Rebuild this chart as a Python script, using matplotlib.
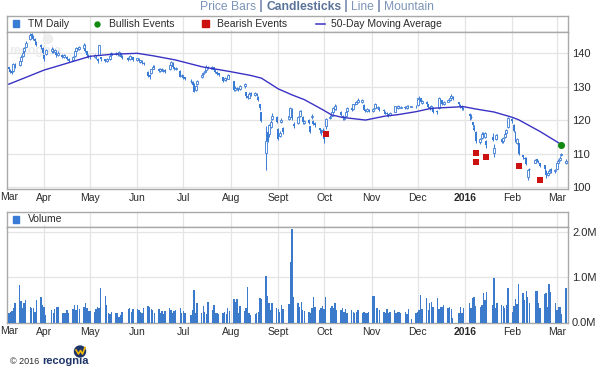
import matplotlib
matplotlib.use("Agg")
import matplotlib.pyplot as plt
import matplotlib.dates as mdates
from matplotlib.patches import Rectangle, Circle
import numpy as np
import pandas as pd

plt.rcParams["font.family"] = ["Liberation Sans", "DejaVu Sans"]

# exchange holidays inside the window (no candle on these days)
holidays = ["2015-04-03", "2015-05-25", "2015-07-03", "2015-09-07", "2015-11-26",
            "2015-12-25", "2016-01-01", "2016-01-18", "2016-02-15"]

# daily OHLC, one line per week (Mar 9 2015 .. Mar 7 2016)
opens = [
    135.8, 135.0, 134.8, 134.6, 136.6,
    136.4, 137.8, 139.2, 140.6, 142.0,
    144.2, 145.8, 145.0, 144.2, 143.4,
    142.4, 141.6, 139.4, 139.8,
    140.6, 141.2, 140.4, 140.6, 139.6,
    139.6, 138.8, 139.4, 139.0, 138.4,
    138.0, 139.2, 140.8, 141.6, 141.2,
    141.6, 142.6, 140.6, 139.6, 139.2,
    139.0, 139.2, 138.4, 139.6, 138.8,
    138.2, 137.6, 138.2, 138.2, 139.4,
    139.8, 140.2, 139.5, 140.0, 139.2,
    138.6, 138.2, 139.0, 138.8,
    138.0, 138.4, 137.4, 137.8, 137.2,
    134.4, 133.4, 134.0, 135.4, 136.2,
    135.4, 134.6, 135.3, 134.6, 135.0,
    135.2, 136.6, 137.2, 135.8, 135.2,
    134.8, 133.2, 133.2, 132.8,
    131.6, 131.4, 130.8, 129.2, 130.8,
    132.8, 133.8, 134.4, 135.0, 135.8,
    135.4, 135.8, 135.0, 134.4, 134.0,
    132.8, 132.0, 132.4, 132.4, 133.4,
    131.6, 129.2, 129.8, 129.4, 129.4,
    130.4, 128.4, 127.2, 126.8, 128.2,
    127.6, 128.0, 127.0, 124.8, 122.4,
    110.2, 116.6, 116.0, 118.0, 120.4,
    121.0, 117.4, 115.4, 119.6, 117.6,
    120.4, 121.0, 123.2, 119.0,
    119.2, 121.4, 122.8, 121.0, 119.2,
    120.0, 118.2, 121.0, 119.8, 119.2,
    117.6, 116.8, 116.6, 116.6, 118.4,
    120.8, 121.4, 122.6, 123.4, 124.2,
    122.6, 121.4, 120.4, 121.2, 122.8,
    123.8, 123.4, 124.8, 125.0, 125.4,
    125.4, 124.6, 123.2, 122.8, 123.2,
    122.8, 123.6, 124.6, 123.6, 123.8,
    123.2, 122.6, 122.2, 121.8, 121.6,
    122.6, 124.0, 123.6, 124.2, 123.8,
    124.0, 123.6, 124.4, 124.0,
    124.4, 124.6, 126.4, 126.6, 125.2,
    125.6, 124.8, 124.0, 123.6, 123.8,
    122.8, 123.6, 126.4, 126.0, 124.8,
    125.6, 126.2, 126.8, 127.0,
    125.4, 124.6, 124.4, 123.8,
    122.0, 121.0, 119.4, 117.8, 116.6,
    113.6, 114.8, 116.0, 115.2, 114.0,
    115.0, 110.2, 114.4, 115.4,
    114.4, 113.8, 115.0, 116.2, 118.0,
    120.4, 118.6, 116.6, 113.4, 113.2,
    109.6, 108.8, 108.8, 103.2, 105.4,
    107.4, 108.4, 108.0, 107.2,
    106.6, 105.0, 103.8, 104.4, 105.4,
    104.8, 105.6, 107.4, 108.2, 109.6,
    107.3,
]
highs = [
    136.0, 135.3, 135.0, 137.2, 137.0,
    138.0, 139.4, 140.6, 142.0, 143.6,
    146.2, 146.0, 145.4, 144.6, 143.8,
    142.8, 141.8, 139.6, 141.4,
    141.8, 141.6, 141.2, 140.8, 140.6,
    139.8, 139.8, 139.6, 139.2, 138.6,
    139.2, 141.0, 141.9, 141.8, 142.2,
    143.2, 142.8, 140.8, 139.8, 139.4,
    139.8, 139.4, 138.6, 142.6, 139.0,
    138.4, 138.5, 138.4, 139.5, 140.3,
    140.5, 140.4, 140.6, 140.2, 139.4,
    138.8, 139.4, 139.2, 139.0,
    138.7, 138.6, 138.1, 138.0, 137.4,
    134.6, 133.8, 135.4, 136.4, 136.4,
    135.6, 135.6, 135.5, 135.4, 135.2,
    136.6, 137.8, 137.4, 136.0, 135.9,
    135.0, 133.8, 133.4, 133.0,
    132.2, 131.6, 131.0, 130.6, 132.0,
    133.8, 134.5, 135.0, 136.4, 136.1,
    136.2, 136.0, 135.2, 134.6, 134.2,
    133.0, 132.8, 132.6, 133.8, 133.6,
    131.8, 130.2, 130.0, 129.8, 130.6,
    131.2, 128.6, 127.6, 128.4, 128.4,
    128.5, 128.3, 127.2, 125.0, 122.6,
    118.2, 117.0, 119.0, 120.0, 122.2,
    121.4, 117.8, 116.8, 120.6, 118.0,
    121.6, 123.9, 123.6, 119.4,
    121.4, 123.2, 123.0, 121.2, 120.2,
    120.4, 118.4, 121.8, 120.0, 119.6,
    117.8, 117.4, 117.8, 116.8, 120.8,
    121.6, 122.8, 123.9, 124.8, 124.5,
    122.8, 121.6, 121.2, 122.9, 124.0,
    124.0, 125.0, 125.4, 125.8, 126.6,
    126.4, 124.8, 123.5, 123.8, 123.5,
    123.6, 125.2, 124.8, 124.4, 124.0,
    123.4, 122.8, 122.4, 122.0, 122.6,
    124.4, 124.2, 124.6, 124.4, 124.3,
    124.2, 124.6, 124.6, 124.4,
    124.6, 126.8, 127.2, 126.8, 126.0,
    125.8, 125.0, 124.2, 124.5, 124.0,
    123.0, 126.9, 126.8, 126.2, 125.8,
    126.3, 127.2, 127.8, 127.2,
    125.6, 125.0, 124.6, 124.0,
    122.2, 121.8, 119.6, 118.6, 116.8,
    114.8, 116.6, 116.4, 116.6, 114.2,
    116.2, 113.0, 116.0, 115.8,
    114.6, 115.2, 116.4, 117.4, 121.0,
    120.8, 118.8, 116.8, 114.8, 113.4,
    109.8, 109.2, 109.0, 105.6, 105.8,
    108.6, 108.6, 108.2, 107.4,
    106.8, 105.2, 104.8, 105.6, 105.8,
    105.6, 107.6, 108.4, 109.4, 110.4,
    108.6,
]
lows = [
    134.6, 134.0, 133.8, 134.4, 135.6,
    136.2, 137.4, 138.8, 140.2, 141.8,
    144.0, 144.6, 144.0, 143.4, 142.2,
    141.4, 139.8, 137.6, 139.4,
    140.2, 140.2, 140.0, 139.0, 139.2,
    138.6, 138.6, 138.8, 137.9, 137.4,
    137.8, 139.0, 140.6, 140.9, 141.0,
    141.4, 140.5, 139.0, 138.6, 138.4,
    138.6, 138.2, 137.2, 139.4, 137.6,
    137.4, 137.3, 137.6, 138.0, 139.2,
    139.6, 139.3, 139.3, 138.8, 138.4,
    137.6, 138.0, 138.3, 137.6,
    137.8, 137.4, 137.2, 136.8, 136.4,
    132.8, 132.2, 133.8, 135.2, 135.4,
    134.3, 134.4, 134.6, 134.4, 134.0,
    135.0, 136.4, 135.6, 135.1, 135.0,
    132.8, 132.8, 132.3, 132.1,
    131.2, 130.2, 128.4, 128.8, 130.6,
    132.6, 133.6, 134.2, 134.8, 135.2,
    135.2, 134.8, 134.2, 133.4, 133.1,
    131.4, 131.8, 131.6, 132.2, 132.8,
    128.8, 128.9, 129.1, 128.8, 129.0,
    129.6, 126.8, 126.4, 126.6, 127.4,
    127.4, 127.2, 125.8, 123.2, 119.4,
    105.2, 113.6, 115.0, 117.6, 120.2,
    119.2, 114.2, 115.0, 119.2, 116.0,
    120.0, 120.6, 120.2, 117.8,
    118.8, 121.0, 121.8, 119.0, 118.9,
    118.8, 116.2, 120.4, 118.6, 118.0,
    116.2, 115.6, 116.2, 113.2, 117.4,
    120.4, 121.2, 122.4, 123.2, 123.0,
    121.4, 120.2, 120.0, 121.0, 122.6,
    122.8, 123.2, 124.5, 124.8, 125.2,
    125.2, 123.0, 122.4, 122.6, 122.5,
    122.6, 123.4, 123.6, 123.4, 122.8,
    122.4, 121.8, 121.4, 121.0, 121.2,
    122.4, 123.3, 123.4, 123.6, 123.6,
    123.4, 123.4, 123.8, 123.9,
    123.8, 124.4, 126.0, 125.4, 125.0,
    124.6, 123.8, 123.2, 123.4, 122.2,
    121.8, 123.4, 125.8, 124.6, 124.6,
    125.4, 125.9, 126.6, 126.2,
    124.4, 123.8, 123.2, 123.0,
    120.2, 120.4, 118.0, 116.8, 113.4,
    113.0, 114.4, 115.0, 114.8, 111.8,
    113.8, 109.2, 114.2, 114.4,
    113.2, 113.4, 114.8, 115.8, 117.8,
    119.2, 116.4, 113.6, 113.0, 109.6,
    108.4, 108.2, 106.6, 102.3, 105.0,
    107.2, 107.6, 107.2, 106.0,
    105.0, 102.8, 103.4, 104.2, 104.4,
    104.4, 105.4, 107.2, 107.8, 109.4,
    107.0,
]
closes = [
    135.2, 134.4, 134.2, 136.8, 136.0,
    137.6, 139.0, 140.2, 141.5, 143.2,
    145.6, 145.0, 144.3, 143.8, 142.6,
    141.8, 140.2, 138.4, 141.0,
    141.3, 140.6, 140.9, 139.4, 140.2,
    138.9, 139.5, 139.0, 138.2, 137.8,
    139.0, 140.8, 141.6, 141.2, 141.8,
    142.4, 140.8, 139.4, 139.0, 138.8,
    139.4, 138.6, 137.6, 142.4, 138.2,
    137.8, 138.2, 137.9, 139.3, 140.0,
    140.2, 139.6, 140.3, 139.0, 138.7,
    138.0, 139.2, 138.6, 138.0,
    138.5, 137.6, 137.9, 137.0, 136.8,
    133.2, 132.8, 135.2, 136.0, 135.8,
    134.6, 135.4, 134.8, 135.1, 134.3,
    136.4, 137.4, 135.8, 135.4, 135.6,
    133.0, 133.6, 132.6, 132.4,
    131.8, 130.6, 128.6, 130.4, 131.6,
    133.6, 134.2, 134.8, 136.0, 135.5,
    135.8, 135.0, 134.4, 133.8, 133.4,
    131.8, 132.6, 132.2, 133.6, 133.2,
    129.0, 129.8, 129.4, 129.6, 130.2,
    130.8, 127.4, 126.8, 128.0, 127.8,
    128.2, 127.6, 126.2, 123.6, 119.8,
    113.8, 114.0, 118.6, 119.4, 121.2,
    119.6, 114.6, 116.2, 120.0, 116.6,
    121.2, 123.6, 120.6, 118.2,
    121.0, 122.8, 122.2, 119.4, 119.8,
    119.2, 116.6, 121.2, 119.0, 118.6,
    117.0, 116.4, 117.2, 114.4, 120.4,
    121.0, 122.4, 123.6, 124.4, 123.2,
    121.6, 120.6, 120.8, 122.6, 123.6,
    123.2, 124.8, 125.0, 125.6, 126.2,
    126.0, 123.2, 122.8, 123.4, 122.8,
    123.4, 124.8, 123.8, 124.0, 123.0,
    122.8, 122.0, 121.8, 121.4, 122.2,
    124.2, 123.6, 124.4, 123.8, 124.0,
    123.6, 124.4, 124.0, 124.2,
    124.2, 126.6, 126.8, 125.6, 125.8,
    125.0, 124.0, 123.6, 124.2, 122.6,
    122.4, 126.6, 126.2, 125.0, 125.4,
    126.0, 126.8, 127.2, 126.4,
    124.8, 124.2, 123.6, 123.4,
    121.2, 121.0, 118.6, 117.2, 113.8,
    114.4, 116.0, 115.4, 116.2, 112.8,
    114.2, 111.8, 115.6, 114.8,
    113.6, 114.8, 116.0, 117.0, 120.6,
    119.8, 116.8, 114.0, 114.6, 110.0,
    109.0, 108.6, 107.0, 105.2, 105.6,
    108.2, 108.0, 107.6, 106.4,
    105.4, 103.6, 104.4, 105.0, 104.8,
    105.2, 107.2, 108.0, 108.8, 110.0,
    108.0,
]
# daily volume, millions of shares
volume_m = [
    0.20, 0.24, 0.25, 0.33, 0.42,
    0.83, 0.48, 0.33, 0.42, 0.50,
    0.35, 0.33, 0.33, 0.24, 0.50,
    0.57, 0.39, 0.35, 0.16,
    0.27, 0.21, 0.29, 0.35, 0.35,
    0.20, 0.20, 0.20, 0.27, 0.20,
    0.29, 0.39, 0.27, 0.39, 0.29,
    0.35, 0.42, 0.31, 0.25, 0.25,
    0.23, 0.29, 0.35, 0.33, 0.76,
    0.58, 0.39, 0.20, 0.18, 0.24,
    0.20, 0.21, 0.13, 0.16, 0.24,
    0.29, 0.31, 0.24, 0.29,
    0.30, 0.27, 0.24, 0.21, 0.31,
    0.36, 0.34, 0.30, 0.27, 0.22,
    0.30, 0.20, 0.25, 0.19, 0.26,
    0.33, 0.27, 0.21, 0.26, 0.28,
    0.33, 0.20, 0.25, 0.22,
    0.17, 0.27, 0.72, 0.21, 0.42,
    0.22, 0.36, 0.24, 0.18, 0.46,
    0.27, 0.38, 0.20, 0.21, 0.19,
    0.20, 0.24, 0.19, 0.33, 0.25,
    0.51, 0.46, 0.51, 0.21, 0.36,
    0.26, 0.31, 0.79, 0.22, 0.16,
    0.18, 0.20, 0.24, 0.53, 0.51,
    1.03, 0.58, 0.42, 0.28, 0.42,
    0.31, 0.29, 0.24, 0.38, 0.29,
    0.40, 1.34, 2.06, 0.56,
    0.44, 0.35, 0.46, 0.27, 0.25,
    0.24, 0.20, 0.31, 0.56, 0.35,
    0.27, 0.31, 0.36, 0.29, 0.57,
    0.31, 0.36, 0.31, 0.42, 0.27,
    0.27, 0.31, 0.24, 0.29, 0.22,
    0.27, 0.24, 0.20, 0.24, 0.27,
    0.22, 0.24, 0.20, 0.21, 0.24,
    0.58, 0.58, 0.31, 0.31, 0.27,
    0.24, 0.20, 0.29, 0.20, 0.24,
    0.27, 0.20, 0.24, 0.24, 0.20,
    0.24, 0.18, 0.29, 0.07,
    0.22, 0.24, 0.27, 0.61, 0.29,
    0.53, 0.27, 0.42, 0.46, 0.35,
    0.53, 0.29, 0.35, 0.35, 0.39,
    0.31, 0.35, 0.29, 0.10,
    0.20, 0.35, 0.21, 0.31,
    0.42, 0.33, 0.53, 0.56, 0.36,
    0.35, 0.38, 0.64, 0.50, 0.67,
    0.38, 0.99, 0.32, 0.42,
    0.38, 0.36, 0.33, 0.39, 0.76,
    0.24, 0.36, 0.52, 0.40, 0.84,
    0.64, 0.50, 0.70, 0.57, 0.43,
    0.69, 0.70, 0.42, 0.31,
    0.62, 0.64, 0.35, 0.84, 0.67,
    0.44, 0.27, 0.35, 0.34, 0.19,
    0.76,
]

# 50-day moving average
ma_dates = ["2015-03-09", "2015-03-20", "2015-04-01", "2015-04-15", "2015-05-01",
            "2015-05-15", "2015-06-01", "2015-06-12", "2015-06-26", "2015-07-13",
            "2015-07-31", "2015-08-14", "2015-08-21", "2015-09-01", "2015-09-10",
            "2015-09-18", "2015-09-30", "2015-10-06", "2015-10-13", "2015-10-28",
            "2015-11-10", "2015-11-18", "2015-11-30", "2015-12-10", "2015-12-31",
            "2016-01-08", "2016-01-20", "2016-02-01", "2016-02-05", "2016-02-19",
            "2016-03-04"]
ma_values = [130.8, 132.8, 135.0, 136.9, 139.1,
             139.7, 140.0, 139.2, 138.0, 136.0,
             134.6, 133.4, 132.6, 129.4, 127.6,
             126.2, 123.2, 121.6, 120.9, 120.1,
             121.3, 121.7, 122.6, 123.6, 124.1,
             123.4, 122.5, 120.9, 120.2, 116.7,
             112.8]

bull_dates = ["2016-03-04"]
bull_values = [112.8]
bear_dates = ["2015-10-02", "2016-01-08", "2016-01-08", "2016-01-15", "2016-02-05", "2016-02-19"]
bear_values = [115.9, 110.2, 107.5, 109.2, 106.3, 102.1]

month_labels = ["Apr", "May", "Jun", "Jul", "Aug", "Sept", "Oct", "Nov", "Dec", "2016", "Feb", "Mar"]
price_ticks = [100, 110, 120, 130, 140]
volume_ticks = [0, 1, 2]
volume_labels = ["0.0M", "1.0M", "2.0M"]

blue = "#3a7bd5"
ma_color = "#3a32c4"
grid_c = "#e4e4e4"
spine_c = "#a9a9a9"
text_c = "#2a2a2a"

days = pd.bdate_range("2015-03-09", "2016-03-07")
days = days[~days.isin(pd.to_datetime(holidays))]
assert len(days) == len(closes) == len(opens) == len(highs) == len(lows) == len(volume_m)
x = mdates.date2num(days)
o = np.array(opens)
c = np.array(closes)
up = c >= o

months = mdates.date2num(pd.date_range("2015-04-01", "2016-03-01", freq="MS"))
x0 = mdates.date2num(pd.Timestamp("2015-04-01"))
xlim = (x0 - 24.2, x0 + 342.3)

W, H = 600, 372
fig = plt.figure(figsize=(6, 3.72), dpi=100)


def box(l, t, r, b):
    return [l / W, 1 - b / H, (r - l) / W, (b - t) / H]


ax_ph = fig.add_axes(box(7, 15.5, 568, 32))
ax_p = fig.add_axes(box(7, 32, 568, 188.5))
ax_vh = fig.add_axes(box(7, 211.7, 568, 227.3))
ax_v = fig.add_axes(box(7, 227.3, 568, 322.5))

for a in (ax_ph, ax_p, ax_vh, ax_v):
    a.set_xlim(xlim)
    a.set_xticks(months)
    a.grid(True, axis="x", color=grid_c, lw=0.9)
    a.set_axisbelow(True)
    for s in a.spines.values():
        s.set_color(spine_c)
        s.set_linewidth(1.0)
    a.tick_params(length=0)

for a in (ax_ph, ax_vh):
    a.set_yticks([])
    a.set_xticklabels([])
    a.set_ylim(0, 1)

# price panel
ax_p.set_ylim(99.7, 146.35)
ax_p.set_yticks(price_ticks)
ax_p.grid(True, axis="y", color=grid_c, lw=0.9)
ax_p.yaxis.tick_right()
ax_p.tick_params(axis="y", pad=2.9, labelsize=8, labelcolor=text_c)
ax_p.set_xticklabels(month_labels)
ax_p.tick_params(axis="x", pad=3.4, labelsize=7.5, labelcolor=text_c)

ax_p.vlines(x, lows, highs, color=blue, lw=0.7, zorder=3)
body_lo = np.minimum(o, c)
body_h = np.maximum(np.abs(c - o), 0.15)
ax_p.bar(x[~up], body_h[~up], bottom=body_lo[~up], width=1.3, color=blue, lw=0, zorder=4)
ax_p.bar(x[up], body_h[up], bottom=body_lo[up], width=1.3, facecolor="white",
         edgecolor=blue, lw=0.6, zorder=4)
ax_p.plot(mdates.date2num(pd.to_datetime(ma_dates)), ma_values, color=ma_color, lw=1.0, zorder=5)
ax_p.scatter(mdates.date2num(pd.to_datetime(bear_dates)), bear_values, marker="s", s=24,
             color="#cc1111", zorder=6, lw=0)
ax_p.scatter(mdates.date2num(pd.to_datetime(bull_dates)), bull_values, marker="o", s=26,
             color="#128a12", zorder=6, lw=0)

# volume panel
ax_v.set_ylim(0, 2.10)
ax_v.set_yticks(volume_ticks)
ax_v.set_yticklabels(volume_labels)
ax_v.grid(True, axis="y", color=grid_c, lw=0.9)
ax_v.yaxis.tick_right()
ax_v.tick_params(axis="y", pad=2.9, labelsize=8, labelcolor=text_c)
ax_v.set_xticklabels(month_labels)
ax_v.tick_params(axis="x", pad=3.0, labelsize=7.5, labelcolor=text_c)
ax_v.bar(x, volume_m, width=0.9, color="#3c7bcc", lw=0, zorder=3)

for a in (ax_p, ax_v):
    for lbl in a.get_xticklabels():
        if lbl.get_text() == "2016":
            lbl.set_fontweight("bold")

# overlay in pixel coordinates for legends and texts
ov = fig.add_axes([0, 0, 1, 1], zorder=10)
ov.set_xlim(0, W)
ov.set_ylim(H, 0)
ov.axis("off")

wb = dict(facecolor="white", edgecolor="none", pad=0.6)
ly = 23.7
ov.add_patch(Rectangle((12.7, ly - 3.3), 6.6, 6.6, color=blue))
ov.text(28, ly, "TM Daily", va="center", fontsize=7.5, color=text_c, bbox=wb)
ov.plot([97], [ly], "o", ms=4.6, color="#128a12", mec="none")
ov.text(109, ly, "Bullish Events", va="center", fontsize=7.5, color=text_c, bbox=wb)
ov.add_patch(Rectangle((202, ly - 3.3), 6.6, 6.6, color="#cc1111"))
ov.text(217, ly, "Bearish Events", va="center", fontsize=7.5, color=text_c, bbox=wb)
ov.plot([316, 325], [ly, ly], color=ma_color, lw=1.1)
ov.text(331, ly, "50-Day Moving Average", va="center", fontsize=7.5, color=text_c, bbox=wb)

vy = 219.5
ov.add_patch(Rectangle((12.7, vy - 3.3), 6.6, 6.6, color=blue))
ov.text(28, vy, "Volume", va="center", fontsize=7.5, color=text_c, bbox=wb)

# first month label on both panels, pushed to the left edge
ov.text(0.5, 197.3, "Mar", ha="left", va="center", fontsize=7.5, color=text_c)
ov.text(0.5, 330.7, "Mar", ha="left", va="center", fontsize=7.5, color=text_c)

# chart type switcher
renderer = fig.canvas.get_renderer()
pieces = [("Price Bars", "normal", "#7d95b8"), (" | ", "normal", "#23407a"),
          ("Candlesticks", "bold", "#5a7399"), (" | ", "normal", "#23407a"),
          ("Line", "normal", "#7d95b8"), (" | ", "normal", "#23407a"),
          ("Mountain", "normal", "#7d95b8")]
px = 200
for s, wt, col in pieces:
    t = ov.text(px, 6.5, s, va="center", ha="left", fontsize=8.7, fontweight=wt, color=col)
    px += t.get_window_extent(renderer).width

# faint watermark in the price panel
ax_p.text(9, 51, "recognia", transform=ov.transData, fontsize=9, fontweight="bold",
          color="#ebebeb", va="center", zorder=1)
ax_p.add_patch(Circle((48, 39), 4.5, transform=ov.transData, color="#eeeeee", zorder=1))

# footer
ov.text(10, 361, "\u00a9 2016", va="center", fontsize=6.5, color=text_c)
ov.text(42, 361, "recognia", va="center", fontsize=8, fontweight="bold", color="#1f3468")
ov.add_patch(Circle((80, 351.5), 5.5, color="#1f3468"))
ov.plot([76, 78.5, 80.5, 82.5, 85], [350, 354, 350.5, 354, 347.5], color="#f2b700", lw=1.2)

fig.savefig("out.png", dpi=100, facecolor="white")
